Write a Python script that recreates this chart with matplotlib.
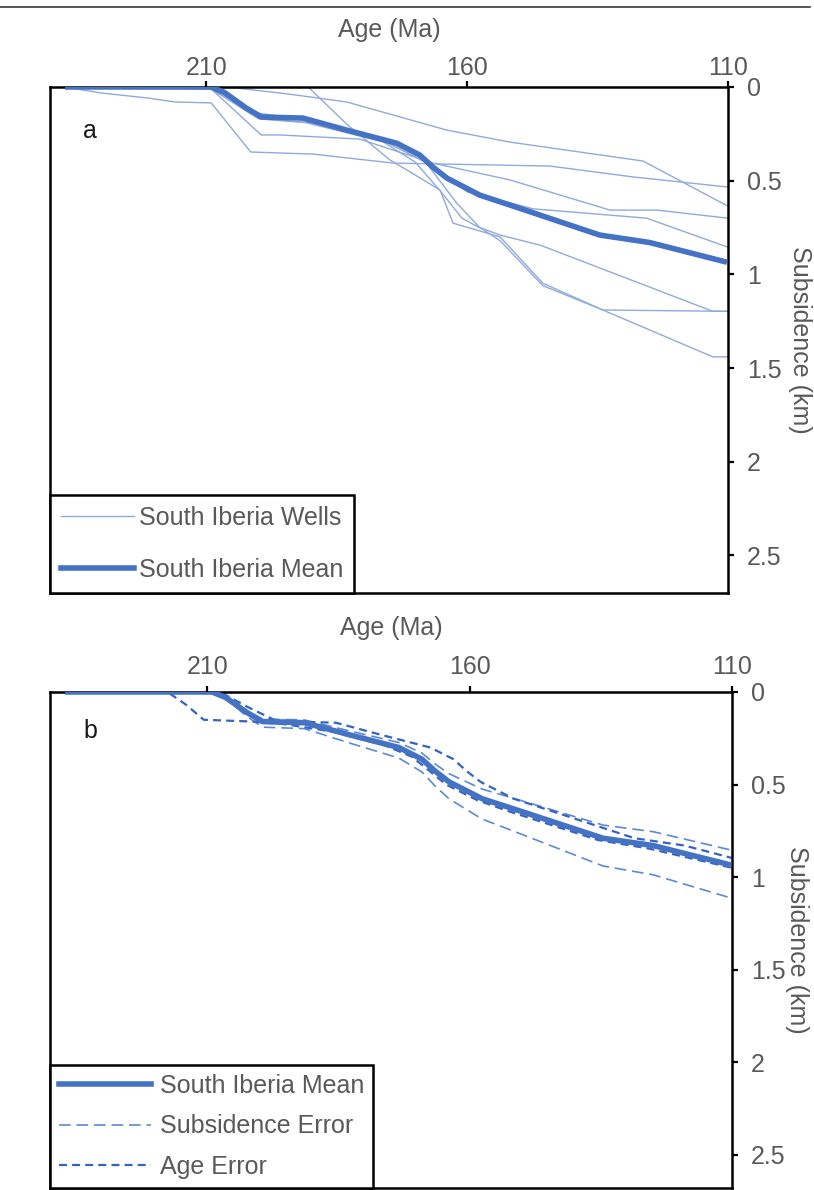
import matplotlib
matplotlib.use("Agg")
import matplotlib.pyplot as plt
from matplotlib.lines import Line2D

plt.rcParams["font.family"] = ["Liberation Sans", "DejaVu Sans"]

# ----------------------------------------------------------------------
# Datos (edad en Ma, subsidencia en km)
# ----------------------------------------------------------------------
mean_age = [237.1, 209.1, 206.5, 202.5, 199.5, 191.5, 183.1, 173.5, 169.1,
            166.6, 163.9, 157.6, 151.8, 134.6, 125.0, 110.2]
mean_sub = [0.0, 0.0, 0.03, 0.11, 0.16, 0.166, 0.23, 0.30, 0.363,
            0.427, 0.486, 0.577, 0.63, 0.79, 0.83, 0.935]

# pozos individuales (panel a)
well1_age = [237.1, 204.5, 195.9, 190.1, 183.1, 163.9, 151.8, 126.3, 110.0]
well1_sub = [0.0, 0.005, 0.032, 0.053, 0.08, 0.23, 0.294, 0.395, 0.636]
well2_age = [237.1, 230.2, 221.2, 216.0, 209.1, 201.5, 189.6, 174.2, 144.1, 128.2, 110.0]
well2_sub = [0.0, 0.032, 0.059, 0.08, 0.085, 0.347, 0.358, 0.406, 0.422, 0.48, 0.534]
well3_age = [237.1, 209.1, 199.5, 195.9, 180.6, 166.6, 151.8, 132.6, 123.6, 110.0]
well3_sub = [0.0, 0.01, 0.256, 0.256, 0.278, 0.406, 0.496, 0.657, 0.657, 0.70]
well4_age = [237.1, 190.5, 183.1, 174.8, 171.5, 165.2, 162.7, 158.1, 153.7, 145.5, 134.0, 110.0]
well4_sub = [0.0, 0.0, 0.198, 0.39, 0.444, 0.55, 0.727, 0.764, 0.80, 1.047, 1.19, 1.197]
well5_age = [237.1, 209.1, 199.5, 190.0, 178.0, 170.0, 165.0, 161.0, 157.0, 153.7,
             145.5, 134.0, 112.9, 110.0]
well5_sub = [0.0, 0.005, 0.17, 0.19, 0.26, 0.40, 0.56, 0.70, 0.76, 0.82,
             1.06, 1.19, 1.44, 1.44]
well6_age = [237.1, 209.1, 200.0, 192.0, 178.0, 168.0, 162.0, 157.6, 153.7, 146.0, 112.9, 110.0]
well6_sub = [0.0, 0.0, 0.14, 0.17, 0.26, 0.40, 0.62, 0.75, 0.79, 0.844, 1.197, 1.197]
well7_age = [237.1, 209.1, 200.0, 191.0, 175.0, 166.0, 160.0, 147.4, 125.6, 110.0]
well7_sub = [0.0, 0.01, 0.17, 0.19, 0.30, 0.43, 0.56, 0.65, 0.70, 0.855]

# errores (panel b)
sub_hi_age = [237.1, 209.1, 206.5, 202.5, 199.5, 191.5, 183.1, 173.5, 169.1,
              166.6, 163.9, 157.6, 151.8, 134.6, 125.0, 110.2]
sub_hi_sub = [0.0, 0.0, 0.027, 0.10, 0.146, 0.151, 0.209, 0.273, 0.33,
              0.389, 0.442, 0.525, 0.573, 0.719, 0.755, 0.854]
sub_lo_age = [237.1, 209.1, 206.5, 202.5, 199.5, 191.5, 183.1, 173.5, 169.1,
              166.6, 163.9, 157.6, 151.8, 134.6, 125.0, 110.2]
sub_lo_sub = [0.0, 0.0, 0.036, 0.131, 0.19, 0.198, 0.274, 0.357, 0.432,
              0.508, 0.578, 0.687, 0.75, 0.94, 0.988, 1.113]
age_young_age = [237.1, 207.6, 202.4, 197.3, 193.5, 185.5, 177.1, 167.5, 163.1,
                 160.6, 157.9, 151.6, 145.8, 128.6, 119.0, 110.0]
age_young_sub = [0.0, 0.0, 0.08, 0.15, 0.16, 0.166, 0.23, 0.30, 0.363,
                 0.427, 0.486, 0.577, 0.63, 0.79, 0.83, 0.897]
age_old_age = [237.1, 217.6, 214.0, 210.7, 201.3, 195.0, 186.0, 176.0, 171.0,
               167.5, 164.5, 158.5, 152.5, 135.5, 126.0, 110.0]
age_old_sub = [0.0, 0.0, 0.07, 0.15, 0.16, 0.175, 0.215, 0.29, 0.35,
               0.43, 0.50, 0.585, 0.645, 0.80, 0.845, 0.95]

xticks = [210, 160, 110]
yticks = [0, 0.5, 1, 1.5, 2, 2.5]
yticklabels = ["0", "0.5", "1", "1.5", "2", "2.5"]

GRAY = "#595959"
MEAN_C = "#4472C4"
WELL_C = "#8FAADC"
SUBERR_C = "#5A8AD6"
AGEERR_C = "#3563C0"
FS = 18

fig = plt.figure(figsize=(8.14, 11.9), dpi=100)
ax_a = fig.add_axes([0.0614, 0.5017, 0.8329, 0.4252])
ax_b = fig.add_axes([0.0614, 0.0017, 0.8378, 0.4168])


def estilo(ax, ybot, xpad, xlab_y, ylab_x):
    ax.set_xlim(240, 110)
    ax.set_ylim(ybot, 0)
    ax.xaxis.tick_top()
    ax.yaxis.tick_right()
    ax.set_xticks(xticks)
    ax.set_yticks(yticks)
    ax.set_yticklabels(yticklabels)
    ax.tick_params(axis="x", direction="out", length=4.5, width=1.6, pad=xpad,
                   labelsize=FS, labelcolor=GRAY, color="black")
    ax.tick_params(axis="y", direction="out", length=4.5, width=1.6, pad=9,
                   labelsize=FS, labelcolor=GRAY, color="black")
    for s in ax.spines.values():
        s.set_linewidth(1.8)
        s.set_color("black")
    ax.set_xlabel("Age (Ma)", fontsize=FS, color=GRAY)
    ax.xaxis.set_label_position("top")
    ax.xaxis.label.set_va("center")
    ax.xaxis.set_label_coords(0.5, xlab_y)
    ax.set_ylabel("Subsidence (km)", fontsize=FS, color=GRAY, rotation=270)
    ax.yaxis.set_label_position("right")
    ax.yaxis.label.set_va("center")
    ax.yaxis.label.set_ha("center")
    ax.yaxis.set_label_coords(ylab_x, 0.5)


# --- panel a ---
wells = [(well1_age, well1_sub), (well2_age, well2_sub), (well3_age, well3_sub),
         (well4_age, well4_sub), (well5_age, well5_sub), (well6_age, well6_sub),
         (well7_age, well7_sub)]
for a, s in wells:
    ax_a.plot(a, s, color=WELL_C, lw=1.0, zorder=2)
ax_a.plot(mean_age, mean_sub, color=MEAN_C, lw=4, solid_capstyle="butt", zorder=3)
estilo(ax_a, 2.7, 0.8, 1.113, 1.106)
ax_a.text(0.0585, 0.899, "a", transform=ax_a.transAxes, fontsize=FS,
          ha="center", va="baseline", color="#1a1a1a")
h_a = [Line2D([], [], color=WELL_C, lw=1.0), Line2D([], [], color=MEAN_C, lw=4)]
leg = ax_a.legend(h_a, ["South Iberia Wells", "South Iberia Mean"], loc="lower left",
                  bbox_to_anchor=(0, 0), borderaxespad=0, fontsize=FS, fancybox=False,
                  edgecolor="black", framealpha=1, handlelength=2.9, handletextpad=0.2,
                  labelspacing=1.1, borderpad=0.45, labelcolor=GRAY)
leg.get_frame().set_linewidth(1.8)

# --- panel b ---
ax_b.plot(sub_lo_age, sub_lo_sub, color=SUBERR_C, lw=1.2, dashes=(7, 3.5), zorder=2)
ax_b.plot(sub_hi_age, sub_hi_sub, color=SUBERR_C, lw=1.2, dashes=(7, 3.5), zorder=2)
ax_b.plot(age_young_age, age_young_sub, color=AGEERR_C, lw=1.6, dashes=(3.6, 2.3), zorder=2)
ax_b.plot(age_old_age, age_old_sub, color=AGEERR_C, lw=1.6, dashes=(3.6, 2.3), zorder=2)
ax_b.plot(mean_age, mean_sub, color=MEAN_C, lw=4, solid_capstyle="butt", zorder=3)
estilo(ax_b, 2.68, 5, 1.129, 1.096)
ax_b.text(0.0594, 0.907, "b", transform=ax_b.transAxes, fontsize=FS,
          ha="center", va="baseline", color="#1a1a1a")
h_b = [Line2D([], [], color=MEAN_C, lw=4),
       Line2D([], [], color=SUBERR_C, lw=1.2, dashes=(7, 3.5)),
       Line2D([], [], color=AGEERR_C, lw=1.6, dashes=(3.6, 2.3))]
leg = ax_b.legend(h_b, ["South Iberia Mean", "Subsidence Error", "Age Error"],
                  loc="lower left", bbox_to_anchor=(0, 0), borderaxespad=0, fontsize=FS,
                  fancybox=False, edgecolor="black", framealpha=1, handlelength=3.7,
                  handletextpad=0.36, labelspacing=0.67, borderpad=0.35, labelcolor=GRAY)
leg.get_frame().set_linewidth(1.8)

# linea separadora superior
fig.add_artist(Line2D([0, 0.995], [0.9941, 0.9941], transform=fig.transFigure,
                      color="#3a3a3a", lw=1.2))

fig.savefig("out.png", dpi=100)
